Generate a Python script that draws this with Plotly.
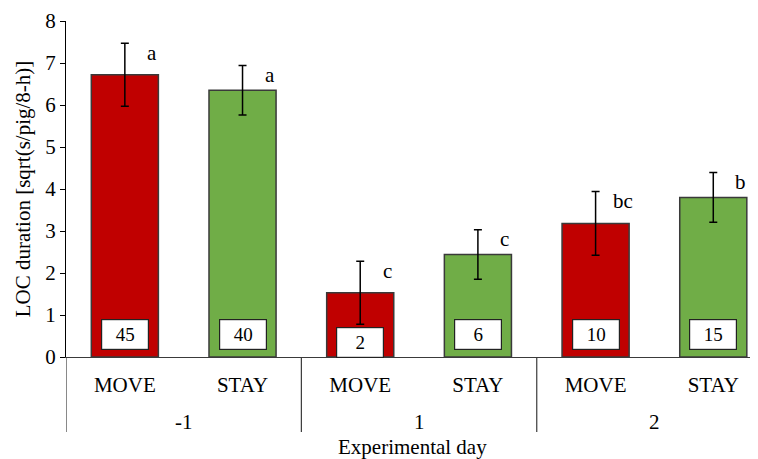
import plotly.graph_objects as go

days = ["-1", "-1", "1", "1", "2", "2"]
groups = ["MOVE", "STAY", "MOVE", "STAY", "MOVE", "STAY"]
means = [6.72, 6.35, 1.53, 2.44, 3.18, 3.80]
errs = [0.75, 0.59, 0.75, 0.59, 0.76, 0.59]
letters = ["a", "a", "c", "c", "bc", "b"]
counts = ["45", "40", "2", "6", "10", "15"]
day_labels = ["-1", "1", "2"]
y_ticks = [0, 1, 2, 3, 4, 5, 6, 7, 8]

RED = "#C00000"
GREEN = "#70AD47"
FONT = "Liberation Serif, Times New Roman, serif"

xs = list(range(len(groups)))
colors = [RED if g == "MOVE" else GREEN for g in groups]

fig = go.Figure()
fig.add_trace(go.Bar(
    x=xs, y=means, width=0.57,
    marker=dict(color=colors, line=dict(color="#3a3a3a", width=1.5)),
    error_y=dict(type="data", array=errs, visible=True, color="black", thickness=1.5, width=4),
    showlegend=False,
))

annotations = []
for i, (m, e, l, c) in enumerate(zip(means, errs, letters, counts)):
    annotations.append(dict(x=i + 0.23, y=m + e - 0.23, xref="x", yref="y", text=l,
                            showarrow=False, xanchor="center", yanchor="middle",
                            font=dict(family=FONT, size=21, color="black")))
    annotations.append(dict(x=i, y=0.53 if m > 2 else 0.34, xref="x", yref="y", text=c,
                            showarrow=False, xanchor="center", yanchor="middle",
                            width=44, height=27, bgcolor="white",
                            bordercolor="#222222", borderwidth=1.2, borderpad=1,
                            font=dict(family=FONT, size=19, color="black")))
for k, d in enumerate(day_labels):
    annotations.append(dict(x=2 * k + 0.5, y=-0.193, xref="x", yref="paper", text=d,
                            showarrow=False, xanchor="center", yanchor="middle",
                            font=dict(family=FONT, size=21, color="black")))
annotations.append(dict(x=0.5, y=-0.268, xref="paper", yref="paper", text="Experimental day",
                        showarrow=False, xanchor="center", yanchor="middle",
                        font=dict(family=FONT, size=21, color="black")))

shapes = []
for k in range(len(day_labels)):
    shapes.append(dict(type="line", x0=2 * k - 0.5, x1=2 * k - 0.5, xref="x",
                       y0=0, y1=-0.223, yref="paper",
                       line=dict(color="#3a3a3a", width=1.2)))

fig.update_layout(
    width=750, height=451,
    margin=dict(l=58, r=0, t=13, b=102),
    plot_bgcolor="white", paper_bgcolor="white",
    font=dict(family=FONT, size=21, color="black"),
    annotations=annotations, shapes=shapes,
)
fig.update_xaxes(
    range=[-0.5, 5.38], tickvals=xs, ticktext=groups, showgrid=False,
    showline=True, linecolor="#3a3a3a", linewidth=1.2, ticks="",
    ticklabelstandoff=9, zeroline=False,
    tickfont=dict(family=FONT, size=21, color="black"),
)
fig.update_yaxes(
    range=[0, 8], tickvals=y_ticks, showgrid=False, zeroline=False,
    showline=True, linecolor="black", linewidth=1.2, ticks="outside", ticklen=5,
    tickcolor="black", tickfont=dict(family=FONT, size=21, color="black"),
    title=dict(text="LOC duration [sqrt(s/pig/8-h)]", standoff=8,
               font=dict(family=FONT, size=21, color="black")),
)

fig.write_html("out.html")
